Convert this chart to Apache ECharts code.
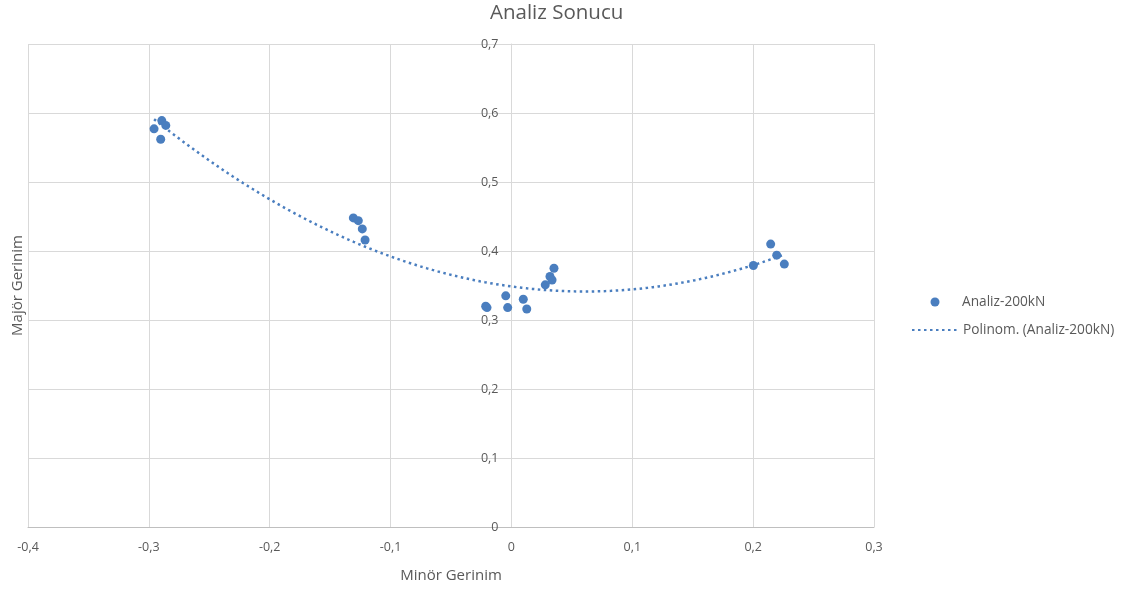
<!DOCTYPE html>
<html>
<head>
<meta charset="utf-8">
<script src="https://cdn.jsdelivr.net/npm/echarts@6/dist/echarts.min.js"></script>
<style>html,body{margin:0;padding:0;background:#fff}#c{width:1128px;height:591px}</style>
</head>
<body>
<div id="c"></div>
<script>
const seriesName = 'Analiz-200kN';
const trendName = 'Polinom. (Analiz-200kN)';
const minorStrain = [-0.2957, -0.2893, -0.2860, -0.2902,
  -0.1308, -0.1267, -0.1234, -0.1211,
  -0.0213, -0.0202, -0.0047, -0.0031, 0.0098, 0.0127, 0.0280, 0.0319, 0.0336, 0.0352,
  0.2002, 0.2145, 0.2195, 0.2258];
const majorStrain = [0.577, 0.589, 0.582, 0.562,
  0.448, 0.444, 0.432, 0.416,
  0.320, 0.318, 0.335, 0.318, 0.330, 0.316, 0.351, 0.363, 0.358, 0.375,
  0.379, 0.410, 0.394, 0.381];
const xTicks = {min: -0.4, max: 0.3, interval: 0.1};
const yTicks = {min: 0, max: 0.7, interval: 0.1};

// Order-2 polynomial least-squares trendline (like Excel's "Polinom." trendline)
function polyFit2(xs, ys) {
  let n = xs.length, sx = 0, sx2 = 0, sx3 = 0, sx4 = 0, sy = 0, sxy = 0, sx2y = 0;
  for (let i = 0; i < n; i++) {
    const x = xs[i], y = ys[i];
    sx += x; sx2 += x * x; sx3 += x * x * x; sx4 += x * x * x * x;
    sy += y; sxy += x * y; sx2y += x * x * y;
  }
  const A = [[n, sx, sx2, sy], [sx, sx2, sx3, sxy], [sx2, sx3, sx4, sx2y]];
  for (let i = 0; i < 3; i++) {
    for (let k = i + 1; k < 3; k++) {
      const f = A[k][i] / A[i][i];
      for (let j = i; j < 4; j++) A[k][j] -= f * A[i][j];
    }
  }
  const c = [0, 0, 0];
  for (let i = 2; i >= 0; i--) {
    let s = A[i][3];
    for (let j = i + 1; j < 3; j++) s -= A[i][j] * c[j];
    c[i] = s / A[i][i];
  }
  return c;
}
const coef = polyFit2(minorStrain, majorStrain);
const xMin = Math.min(...minorStrain), xMax = Math.max(...minorStrain);
const trend = [];
for (let i = 0; i <= 120; i++) {
  const x = xMin + (xMax - xMin) * i / 120;
  trend.push([x, coef[0] + coef[1] * x + coef[2] * x * x]);
}
const points = minorStrain.map((x, i) => [x, majorStrain[i]]);

const fmt = v => (Math.abs(v) < 1e-9 ? '0' : v.toFixed(1).replace('.', ','));
const FONT = '"Open Sans", "Liberation Sans", sans-serif';
const TXT = '#595959';
const BLUE = '#4A7EBF';

const W = 1128, GRID = {left: 28, right: 254, top: 44, bottom: 64};
const plotW = W - GRID.left - GRID.right;
// place the value axis where minor strain = 0 (Excel crosses axes at zero)
const yAxisShift = plotW * (0 - xTicks.min) / (xTicks.max - xTicks.min);

const chart = echarts.init(document.getElementById('c'), null, {renderer: 'canvas'});
chart.setOption({
  animation: false,
  backgroundColor: '#ffffff',
  textStyle: {fontFamily: FONT},
  title: {
    text: 'Analiz Sonucu', left: 490, top: 3, padding: 0,
    textStyle: {fontFamily: FONT, fontSize: 20.5, fontWeight: 'normal', color: TXT}
  },
  grid: Object.assign({containLabel: false, outerBoundsMode: 'none'}, GRID),
  legend: [{
    data: [{name: seriesName, icon: 'circle'}],
    orient: 'vertical', left: 925.5, top: 290,
    itemWidth: 9, itemHeight: 9,
    textStyle: {fontFamily: FONT, fontSize: 13.7, color: TXT, padding: [0, 0, 0, 17.5]}
  }, {
    data: [{name: trendName, itemStyle: {opacity: 0}}],
    orient: 'vertical', left: 906, top: 318,
    itemWidth: 46, itemHeight: 14,
    textStyle: {fontFamily: FONT, fontSize: 13.7, color: TXT}
  }],
  xAxis: {
    type: 'value', min: xTicks.min, max: xTicks.max, interval: xTicks.interval,
    name: 'Minör Gerinim', nameLocation: 'middle', nameGap: 41,
    nameTextStyle: {fontFamily: FONT, fontSize: 15, color: TXT},
    axisLine: {show: true, onZero: false, lineStyle: {color: '#bfbfbf', width: 1}},
    axisTick: {show: false},
    axisLabel: {formatter: fmt, fontFamily: FONT, fontSize: 12.5, color: TXT, margin: 14},
    splitLine: {show: true, lineStyle: {color: '#d9d9d9', width: 1}}
  },
  yAxis: {
    type: 'value', min: yTicks.min, max: yTicks.max, interval: yTicks.interval,
    position: 'left', offset: -yAxisShift,
    name: 'Majör Gerinim', nameLocation: 'middle', nameGap: 486, nameRotate: 90,
    nameTextStyle: {fontFamily: FONT, fontSize: 15, color: TXT},
    axisLine: {show: true, onZero: false, lineStyle: {color: '#d9d9d9', width: 1}},
    axisTick: {show: false},
    axisLabel: {formatter: fmt, fontFamily: FONT, fontSize: 12.5, color: TXT, margin: 13},
    splitLine: {show: true, lineStyle: {color: '#d9d9d9', width: 1}}
  },
  series: [{
    name: seriesName, type: 'scatter', data: points,
    symbol: 'circle', symbolSize: 9,
    itemStyle: {color: BLUE, opacity: 1}, z: 3
  }, {
    name: trendName, type: 'line', data: trend,
    showSymbol: false, symbol: 'none', smooth: false,
    lineStyle: {color: BLUE, width: 2.5, type: [2.5, 3.5], cap: 'butt'},
    itemStyle: {color: BLUE}, z: 2
  }]
});
</script>
</body>
</html>
